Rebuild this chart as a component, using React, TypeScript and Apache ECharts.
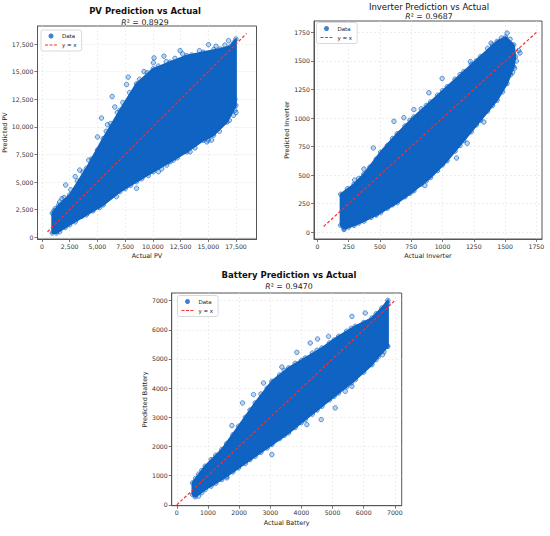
import React, { useEffect, useRef } from 'react';
import * as echarts from 'echarts';

// ---------- PV ----------
const pvTicks = [0, 2500, 5000, 7500, 10000, 12500, 15000, 17500];
const pvUpper = [[935, 2190], [1500, 2900], [2500, 3840], [4010, 6240], [5520, 8940], [7030, 11490], [8530, 13900], [10040, 15250], [11550, 15850], [13060, 16450], [14570, 16750], [16070, 17050], [17000, 17300], [17490, 17950]];
const pvLower = [[17490, 11940], [16680, 10440], [15470, 9240], [14570, 8790], [13060, 7740], [11550, 6840], [10040, 5940], [8530, 5040], [7030, 4140], [5520, 2940], [4010, 2040], [2500, 1140], [1300, 390], [935, 390]];
const pvEdge = [[1100, 2400], [1600, 3200], [2000, 3600], [2600, 4300], [3200, 5100], [3700, 5900], [4500, 7100], [5000, 7900], [5800, 9600], [6200, 10300], [6800, 11300], [7300, 12200], [7900, 13100], [8800, 14300], [9500, 14900], [10500, 15500], [11200, 15900], [12000, 16200], [13500, 16500], [14200, 16900], [15500, 17000], [16500, 17400], [17300, 17600], [1600, 500], [2100, 900], [3000, 1400], [3600, 1900], [4600, 2400], [5200, 2700], [6200, 3700], [7500, 4400], [8000, 4700], [9000, 5300], [9600, 5600], [10800, 6200], [12200, 7200], [13800, 8100], [15000, 8800], [16000, 9600], [16900, 10600], [17400, 11500]];
const pvOutliers = [[6330, 12750], [5370, 10800], [5010, 9090], [4220, 6990], [7780, 14500], [7630, 13840], [8530, 13600], [10110, 16240], [10050, 15800], [12460, 16900], [15020, 17440], [15700, 17300], [16830, 17800], [2140, 4740], [3410, 6090], [6570, 11800], [5910, 10200], [11250, 6540], [10500, 5940], [14870, 8640], [15300, 8800], [17280, 11040], [16830, 11200], [11850, 6990], [13360, 7740], [8530, 4440], [6720, 3690], [5070, 2790], [17400, 12500], [17500, 11300], [9200, 15000], [11000, 16400], [12700, 16600], [3000, 5500], [1800, 3500], [1200, 2600]];
const pvDiag = [500, 18450];

// ---------- Inverter ----------
const invTicks = [0, 250, 500, 750, 1000, 1250, 1500, 1750];
const invUpper = [[186, 332], [293, 420], [372, 509], [505, 700], [638, 862], [771, 1009], [904, 1141], [1037, 1274], [1170, 1406], [1303, 1538], [1436, 1671], [1503, 1709], [1569, 1641], [1582, 1538]];
const invLower = [[1569, 1450], [1516, 1303], [1436, 1156], [1303, 979], [1170, 803], [1037, 626], [904, 479], [771, 362], [638, 259], [505, 171], [372, 97], [293, 60], [213, 30], [186, 60]];
const invEdge = [[240, 380], [330, 470], [420, 570], [470, 640], [560, 760], [600, 820], [700, 930], [740, 980], [830, 1080], [870, 1110], [960, 1200], [1000, 1240], [1100, 1340], [1140, 1380], [1230, 1470], [1270, 1500], [1360, 1610], [1400, 1640], [1470, 1700], [1540, 1690], [250, 45], [330, 80], [430, 130], [470, 150], [560, 210], [600, 240], [700, 310], [740, 340], [830, 420], [870, 450], [960, 540], [1000, 590], [1100, 710], [1140, 760], [1230, 880], [1270, 940], [1360, 1060], [1400, 1110], [1480, 1230], [1545, 1380], [1590, 1500]];
const invOutliers = [[447, 738], [612, 971], [691, 1003], [771, 1074], [891, 1221], [997, 1347], [1223, 1494], [1388, 1656], [1609, 1591], [1575, 1435], [859, 409], [1112, 650], [1197, 779], [1330, 965], [465, 156], [386, 126], [213, 24], [1383, 1156], [1503, 1332], [1059, 759], [918, 568], [372, 553], [298, 456], [1516, 1744], [1619, 1570], [1560, 1400], [1250, 1450]];
const invDiag = [50, 1760];

// ---------- Battery ----------
const batTicks = [0, 1000, 2000, 3000, 4000, 5000, 6000, 7000];
const batUpper = [[503, 753], [910, 1324], [1445, 1895], [1981, 2694], [2516, 3493], [3051, 4235], [3587, 4692], [4122, 5034], [4657, 5377], [5193, 5776], [5728, 6119], [6263, 6404], [6584, 6747], [6777, 7009]];
const batLower = [[6777, 5434], [6477, 5091], [6263, 4806], [5728, 4292], [5193, 3836], [4657, 3379], [4122, 2922], [3587, 2466], [3051, 2066], [2516, 1667], [1981, 1267], [1445, 868], [910, 525], [589, 274], [503, 354]];
const batEdge = [[600, 900], [700, 1050], [800, 1180], [1100, 1550], [1250, 1700], [1600, 2100], [1800, 2400], [2200, 3000], [2350, 3250], [2700, 3800], [2900, 4000], [3300, 4450], [3450, 4600], [3800, 4850], [4000, 4950], [4350, 5200], [4500, 5300], [4900, 5550], [5050, 5650], [5450, 5950], [5600, 6050], [6000, 6250], [6400, 6550], [700, 300], [800, 420], [1100, 640], [1250, 740], [1600, 980], [1800, 1130], [2200, 1420], [2350, 1550], [2700, 1800], [2900, 1950], [3300, 2270], [3450, 2380], [3800, 2650], [4000, 2820], [4350, 3110], [4500, 3250], [4900, 3600], [5050, 3720], [5450, 4050], [5600, 4180], [6000, 4550], [6400, 4980], [6650, 5250]];
const batOutliers = [[1767, 2717], [2109, 3493], [2463, 3779], [2784, 4178], [3373, 4726], [3854, 5228], [4283, 5548], [4518, 5685], [4871, 5776], [5621, 6461], [6049, 6575], [6745, 5434], [6606, 5148], [5086, 3322], [4636, 2922], [4176, 2751], [3051, 1724], [2409, 1667], [1606, 925], [5407, 3893], [5621, 4064], [6777, 6900], [6700, 6300], [6300, 5200]];
const batDiag = [0, 6980];

const FONT = 'DejaVu Sans';
const BLUE = '#0f63c3';
const RED = '#ff2a2a';
const DASH_ICON = 'path://M0,0M14,5M0,2H3.5V3H0ZM5.2,2H8.7V3H5.2ZM10.4,2H13.9V3H10.4Z';

const commas = (v: number) => String(v).replace(/\B(?=(\d{3})+(?!\d))/g, ',');

const panels = [
  {
    title: 'PV Prediction vs Actual', bold: true, r2: '0.8929', titleX: 145, titleY: 11, subY: 22,
    grid: { left: 37.5, top: 26, width: 219, height: 213 },
    x: [-400, 19350], y: [-150, 19130], ticks: pvTicks, fmt: commas,
    xName: 'Actual PV', yName: 'Predicted PV', xGap: 13.5, yGap: 27.5,
    legend: { left: 41, top: 30 },
    upper: pvUpper, lower: pvLower, edge: pvEdge, out: pvOutliers, diag: pvDiag,
  },
  {
    title: 'Inverter Prediction vs Actual', bold: false, r2: '0.9687', titleX: 429, titleY: 6.5, subY: 16,
    grid: { left: 314, top: 21, width: 228, height: 218 },
    x: [-27, 1795], y: [-60, 1850], ticks: invTicks, fmt: (v: number) => String(v),
    xName: 'Actual Inverter', yName: 'Predicted Inverter', xGap: 14, yGap: 23,
    legend: { left: 316.5, top: 22.5 },
    upper: invUpper, lower: invLower, edge: invEdge, out: invOutliers, diag: invDiag,
  },
  {
    title: 'Battery Prediction vs Actual', bold: true, r2: '0.9470', titleX: 289, titleY: 275, subY: 286.5,
    grid: { left: 171.7, top: 293, width: 230, height: 212.7 },
    x: [-165, 7220], y: [-30, 7262], ticks: batTicks, fmt: (v: number) => String(v),
    xName: 'Actual Battery', yName: 'Predicted Battery', xGap: 14.5, yGap: 22,
    legend: { left: 177.5, top: 295.5 },
    upper: batUpper, lower: batLower, edge: batEdge, out: batOutliers, diag: batDiag,
  },
];

function App() {
  const ref = useRef<HTMLDivElement>(null);
  useEffect(() => {
    const chart = echarts.init(ref.current!, null, { renderer: 'svg' });
    const axisCommon = (p: any, which: 'x' | 'y') => ({
      type: 'value',
      min: which === 'x' ? p.x[0] : p.y[0],
      max: which === 'x' ? p.x[1] : p.y[1],
      name: which === 'x' ? p.xName : p.yName,
      nameLocation: 'middle',
      nameGap: which === 'x' ? p.xGap : p.yGap,
      nameTextStyle: { fontFamily: FONT, fontSize: 6.4, color: '#222' },
      axisLine: { show: true, onZero: false, lineStyle: { color: '#555', width: 1 } },
      axisTick: { show: true, length: 3, customValues: p.ticks, lineStyle: { color: '#555', width: 0.8 } },
      axisLabel: { customValues: p.ticks, formatter: p.fmt, fontFamily: FONT, fontSize: 6.2, color: '#333', margin: 4 },
      splitLine: { show: true, lineStyle: { color: '#e2e2e2', type: [2, 2], width: 0.6 } },
    });
    const series: any[] = [];
    panels.forEach((p, i) => {
      const poly = [...p.upper, ...p.lower];
      series.push({
        type: 'custom', name: 'core', xAxisIndex: i, yAxisIndex: i, data: [[p.upper[0][0], p.upper[0][1]]],
        clip: true, silent: true, z: 1,
        renderItem: (_params: any, api: any) => ({
          type: 'polygon',
          shape: { points: poly.map((pt) => api.coord(pt)) },
          style: { fill: BLUE, stroke: BLUE, lineWidth: 2, lineJoin: 'round' },
        }),
      });
      series.push({
        type: 'scatter', name: 'Data', xAxisIndex: i, yAxisIndex: i,
        data: [...p.upper, ...p.lower, ...p.edge, ...p.out], symbolSize: 4.5, z: 2,
        itemStyle: { color: 'rgba(15,99,195,0.35)', borderColor: BLUE, borderWidth: 0.8 },
      });
      series.push({
        type: 'line', name: 'y = x', xAxisIndex: i, yAxisIndex: i,
        data: [[p.diag[0], p.diag[0]], [p.diag[1], p.diag[1]]], symbol: 'none', z: 5,
        lineStyle: { color: RED, type: [3, 2], width: 1.2 },
      });
    });
    const option: any = {
      animation: false,
      backgroundColor: '#fff',
      title: panels.flatMap((p) => [
        {
          text: p.title, left: p.titleX, top: p.titleY, textAlign: 'center', textVerticalAlign: 'middle', padding: 0,
          textStyle: { fontFamily: FONT, fontSize: 8.5, fontWeight: p.bold ? 'bold' : 'normal', color: '#111' },
        },
        {
          text: '{i|R}\u00b2 = ' + p.r2, left: p.titleX, top: p.subY, textAlign: 'center', textVerticalAlign: 'middle', padding: 0,
          textStyle: {
            fontFamily: FONT, fontSize: 7.8, fontWeight: 'normal', color: '#222',
            rich: { i: { fontFamily: FONT, fontSize: 7.8, fontStyle: 'italic', color: '#222' } },
          },
        },
      ]),
      legend: panels.map((p) => ({
        left: p.legend.left, top: p.legend.top, orient: 'vertical', itemGap: 3, itemWidth: 12, itemHeight: 5,
        padding: [3, 5, 3, 4], backgroundColor: '#fff', borderColor: '#cfcfcf', borderWidth: 0.8, borderRadius: 2,
        selectedMode: false,
        textStyle: { fontFamily: FONT, fontSize: 5.5, color: '#222' },
        data: [
          { name: 'Data', icon: 'circle', itemStyle: { color: BLUE, borderWidth: 0 } },
          { name: 'y = x', icon: DASH_ICON, itemStyle: { color: RED, borderWidth: 0 } },
        ],
      })),
      grid: panels.map((p) => ({ ...p.grid, show: true, borderColor: '#555', borderWidth: 1, backgroundColor: 'transparent' })),
      xAxis: panels.map((p, i) => ({ ...axisCommon(p, 'x'), gridIndex: i })),
      yAxis: panels.map((p, i) => ({ ...axisCommon(p, 'y'), gridIndex: i })),
      series,
    };
    chart.setOption(option);
    return () => chart.dispose();
  }, []);
  return <div ref={ref} style={{ position: 'fixed', left: 0, top: 0, width: 550, height: 536, background: '#fff' }} />;
}

export default App;
